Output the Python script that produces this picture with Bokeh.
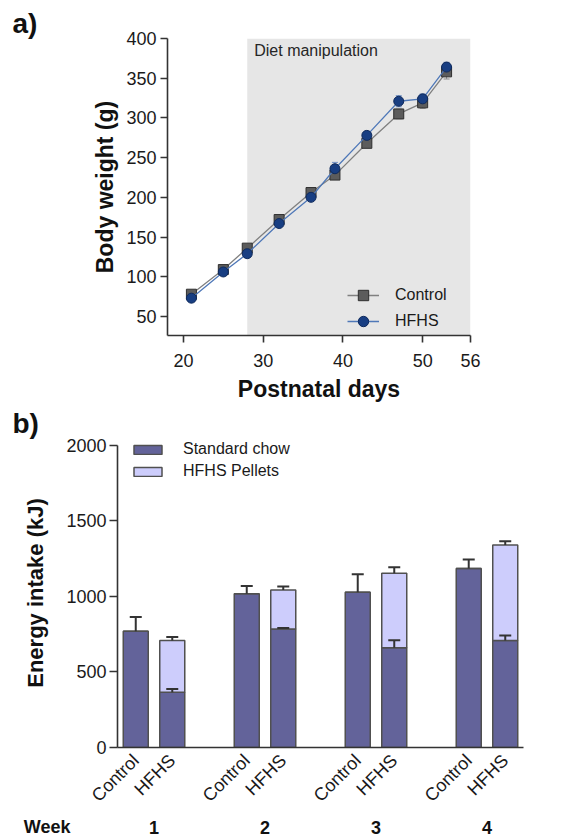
import math
from bokeh.plotting import figure
from bokeh.models import (ColumnDataSource, Range1d, FixedTicker, BoxAnnotation, Label,
                          Legend, LegendItem, Whisker, TeeHead, FactorRange)
from bokeh.layouts import column
from bokeh.embed import file_html
from bokeh.resources import INLINE
from bokeh.core.properties import value

# ---------------- Panel a data ----------------
days = [21, 25, 28, 32, 36, 39, 43, 47, 50, 53]
control_weight = [78, 109, 136, 172, 206, 228, 268, 305, 319, 358]
control_sem = [3, 3, 4, 4, 4, 4, 5, 6, 7, 9]
hfhs_weight = [73, 106, 129, 167, 200, 236, 278, 321, 324, 364]
hfhs_sem = [3, 3, 3, 4, 4, 8, 5, 7, 6, 6]
diet_start = 28
day_ticks = [20, 30, 40, 50, 56]
weight_ticks = [50, 100, 150, 200, 250, 300, 350, 400]

# ---------------- Panel b data ----------------
weeks = ["1", "2", "3", "4"]
groups = ["Control", "HFHS"]
control_chow = [770, 1018, 1028, 1186]
control_chow_sem = [94, 51, 119, 59]
hfhs_chow = [366, 785, 660, 708]
hfhs_chow_sem = [22, 6, 50, 34]
hfhs_pellets = [342, 258, 493, 632]
hfhs_total_sem = [24, 23, 40, 26]
energy_ticks = [0, 500, 1000, 1500, 2000]

FONT = "Liberation Sans"
AX = "#333333"
TXT = "#1a1a1a"
W = 565

# ================= Panel a =================
pa = figure(width=W, height=404, x_range=Range1d(18, 56), y_range=Range1d(26, 400),
            output_backend="svg", toolbar_location=None, frame_align=False,
            min_border_left=167, min_border_right=95, min_border_top=38, min_border_bottom=64)
pa.grid.visible = False
pa.outline_line_color = None
pa.title.text = "a)"
pa.title.align = "left"
pa.title.offset = -155
pa.title.standoff = 0
pa.title.text_font = FONT
pa.title.text_font_size = "28px"
pa.title.text_font_style = "bold"
pa.title.text_color = "#111111"

pa.add_layout(BoxAnnotation(left=diet_start, fill_color="#e6e6e6", fill_alpha=1.0,
                            line_color=None, level="underlay"))
pa.add_layout(Label(x=diet_start, y=400, x_offset=7, y_offset=-3, text="Diet manipulation",
                    text_font=FONT, text_font_size="16px", text_color="#262626",
                    text_baseline="top", text_align="left"))

src_c = ColumnDataSource(dict(x=days, y=control_weight,
                              lo=[v - e for v, e in zip(control_weight, control_sem)],
                              hi=[v + e for v, e in zip(control_weight, control_sem)]))
src_h = ColumnDataSource(dict(x=days, y=hfhs_weight,
                              lo=[v - e for v, e in zip(hfhs_weight, hfhs_sem)],
                              hi=[v + e for v, e in zip(hfhs_weight, hfhs_sem)]))

for src, col in ((src_c, "#8a8a8a"), (src_h, "#6f8fc4")):
    pa.add_layout(Whisker(source=src, base="x", lower="lo", upper="hi", dimension="height",
                          line_color=col, line_width=1,
                          lower_head=TeeHead(size=6, line_color=col, line_width=1),
                          upper_head=TeeHead(size=6, line_color=col, line_width=1)))

lc = pa.line("x", "y", source=src_c, line_color="#808080", line_width=1.3)
sc = pa.scatter("x", "y", source=src_c, marker="square", size=10, fill_color="#5c5c5c",
                line_color="#2e2e2e", line_width=1)
lh = pa.line("x", "y", source=src_h, line_color="#4f78b8", line_width=1.3)
sh = pa.scatter("x", "y", source=src_h, marker="circle", size=10, fill_color="#183e82",
                line_color="#0f2a5c", line_width=1)

leg_a = Legend(items=[LegendItem(label="Control", renderers=[lc, sc]),
                      LegendItem(label="HFHS", renderers=[lh, sh])],
               location=(180, 1), background_fill_alpha=0, border_line_color=None,
               padding=0, margin=0, spacing=0, glyph_width=32, glyph_height=26,
               label_height=26, label_standoff=16,
               label_text_font=FONT, label_text_font_size="16px", label_text_color=TXT)
pa.add_layout(leg_a)

pa.xaxis.ticker = FixedTicker(ticks=day_ticks)
pa.yaxis.ticker = FixedTicker(ticks=weight_ticks)
for ax in (pa.xaxis[0], pa.yaxis[0]):
    ax.axis_line_color = AX
    ax.axis_line_width = 1.6
    ax.major_tick_line_color = AX
    ax.major_tick_line_width = 1.6
    ax.major_tick_in = 0
    ax.major_tick_out = 7
    ax.minor_tick_line_color = None
    ax.major_label_text_font = FONT
    ax.major_label_text_font_size = "18px"
    ax.major_label_text_color = TXT
    ax.axis_label_text_font = FONT
    ax.axis_label_text_font_style = "bold"
    ax.axis_label_text_font_size = "23px"
    ax.axis_label_text_color = "#111111"
pa.xaxis.axis_label = "Postnatal days"
pa.yaxis.axis_label = "Body weight (g)"
pa.xaxis.major_label_standoff = 11
pa.yaxis.major_label_standoff = 4
pa.xaxis.axis_label_standoff = 6
pa.yaxis.axis_label_standoff = 5

# ================= Panel b =================
factors = [(w, g) for w in weeks for g in groups]
chow = []
pellets = []
for i in range(len(weeks)):
    chow += [control_chow[i], hfhs_chow[i]]
    pellets += [0, hfhs_pellets[i]]
src_b = ColumnDataSource(dict(x=factors, chow=chow, pellets=pellets))

xr = FactorRange(*factors, group_padding=1.04, factor_padding=0.0)
pb = figure(width=W, height=412, x_range=xr, y_range=Range1d(0, 2046),
            output_backend="svg", toolbar_location=None, frame_align=False,
            min_border_left=117, min_border_right=42, min_border_top=34, min_border_bottom=69)
pb.grid.visible = False
pb.outline_line_color = None
pb.title.text = "b)"
pb.title.align = "left"
pb.title.offset = -105
pb.title.standoff = 0
pb.title.text_font = FONT
pb.title.text_font_size = "28px"
pb.title.text_font_style = "bold"
pb.title.text_color = "#111111"

bars = pb.vbar_stack(["chow", "pellets"], x="x", width=0.685, source=src_b,
                     fill_color=["#63639a", "#cdcdfc"], line_color="#505050", line_width=1.5)

c_fac = [(w, "Control") for w in weeks]
h_fac = [(w, "HFHS") for w in weeks]
err_sources = [
    ColumnDataSource(dict(x=c_fac, lo=control_chow,
                          hi=[v + e for v, e in zip(control_chow, control_chow_sem)])),
    ColumnDataSource(dict(x=h_fac, lo=hfhs_chow,
                          hi=[v + e for v, e in zip(hfhs_chow, hfhs_chow_sem)])),
    ColumnDataSource(dict(x=h_fac, lo=[c + p for c, p in zip(hfhs_chow, hfhs_pellets)],
                          hi=[c + p + e for c, p, e in zip(hfhs_chow, hfhs_pellets, hfhs_total_sem)])),
]
for es in err_sources:
    pb.add_layout(Whisker(source=es, base="x", lower="lo", upper="hi", dimension="height",
                          level="annotation",
                          line_color="#333333", line_width=2, lower_head=None,
                          upper_head=TeeHead(size=12, line_color="#333333", line_width=2)))

leg_b = Legend(items=[LegendItem(label="Standard chow", renderers=[bars[0]]),
                      LegendItem(label="HFHS Pellets", renderers=[bars[1]])],
               location=(13, 265), background_fill_alpha=0, border_line_color=None,
               padding=0, margin=0, spacing=0, glyph_width=35, glyph_height=11,
               label_height=22, label_standoff=18,
               label_text_font=FONT, label_text_font_size="16px", label_text_color=TXT)
pb.add_layout(leg_b)

pb.yaxis.ticker = FixedTicker(ticks=energy_ticks)
pb.yaxis.bounds = (0, 2000)
for ax in (pb.xaxis[0], pb.yaxis[0]):
    ax.axis_line_color = AX
    ax.axis_line_width = 1.6
    ax.major_tick_line_color = AX
    ax.major_tick_line_width = 1.6
    ax.major_tick_in = 0
    ax.major_tick_out = 8
    ax.minor_tick_line_color = None
    ax.major_label_text_font = FONT
    ax.major_label_text_font_size = "18px"
    ax.major_label_text_color = TXT
    ax.axis_label_text_font = FONT
    ax.axis_label_text_font_style = "bold"
    ax.axis_label_text_font_size = "22px"
    ax.axis_label_text_color = "#111111"
pb.yaxis.axis_label = "Energy intake (kJ)"
pb.yaxis.major_label_standoff = 3
pb.yaxis.axis_label_standoff = 15
xa = pb.xaxis[0]
xa.major_tick_line_color = None
xa.major_label_orientation = math.pi / 4
xa.major_label_standoff = 2
xa.separator_line_color = None
xa.group_text_font_size = "0px"
xa.group_text_color = None

# ---- week row (shares the categorical x range of panel b) ----
pc = figure(width=W, height=21, x_range=xr, y_range=Range1d(0, 1),
            output_backend="svg", toolbar_location=None, frame_align=False,
            x_axis_location=None,
            min_border_left=117, min_border_right=42, min_border_top=0, min_border_bottom=0)
pc.grid.visible = False
pc.outline_line_color = None
row_mid = 0.5
src_w = ColumnDataSource(dict(x=weeks, y=[row_mid] * len(weeks), t=weeks))
pc.text("x", "y", text="t", source=src_w, text_font=value(FONT), text_font_size=value("18px"),
        text_font_style="bold", text_color="#111111", text_align="center",
        text_baseline="middle")
pc.yaxis.ticker = FixedTicker(ticks=[row_mid])
pc.yaxis.major_label_overrides = {row_mid: "Week"}
pc.yaxis.axis_line_color = None
pc.yaxis.major_tick_line_color = None
pc.yaxis.minor_tick_line_color = None
pc.yaxis.major_tick_out = 0
pc.yaxis.major_label_standoff = 47
pc.yaxis.major_label_text_font = FONT
pc.yaxis.major_label_text_font_size = "18px"
pc.yaxis.major_label_text_font_style = "bold"
pc.yaxis.major_label_text_color = "#111111"

layout = column(pa, pb, pc, spacing=0)
open("out.html", "w").write(file_html(layout, INLINE))
